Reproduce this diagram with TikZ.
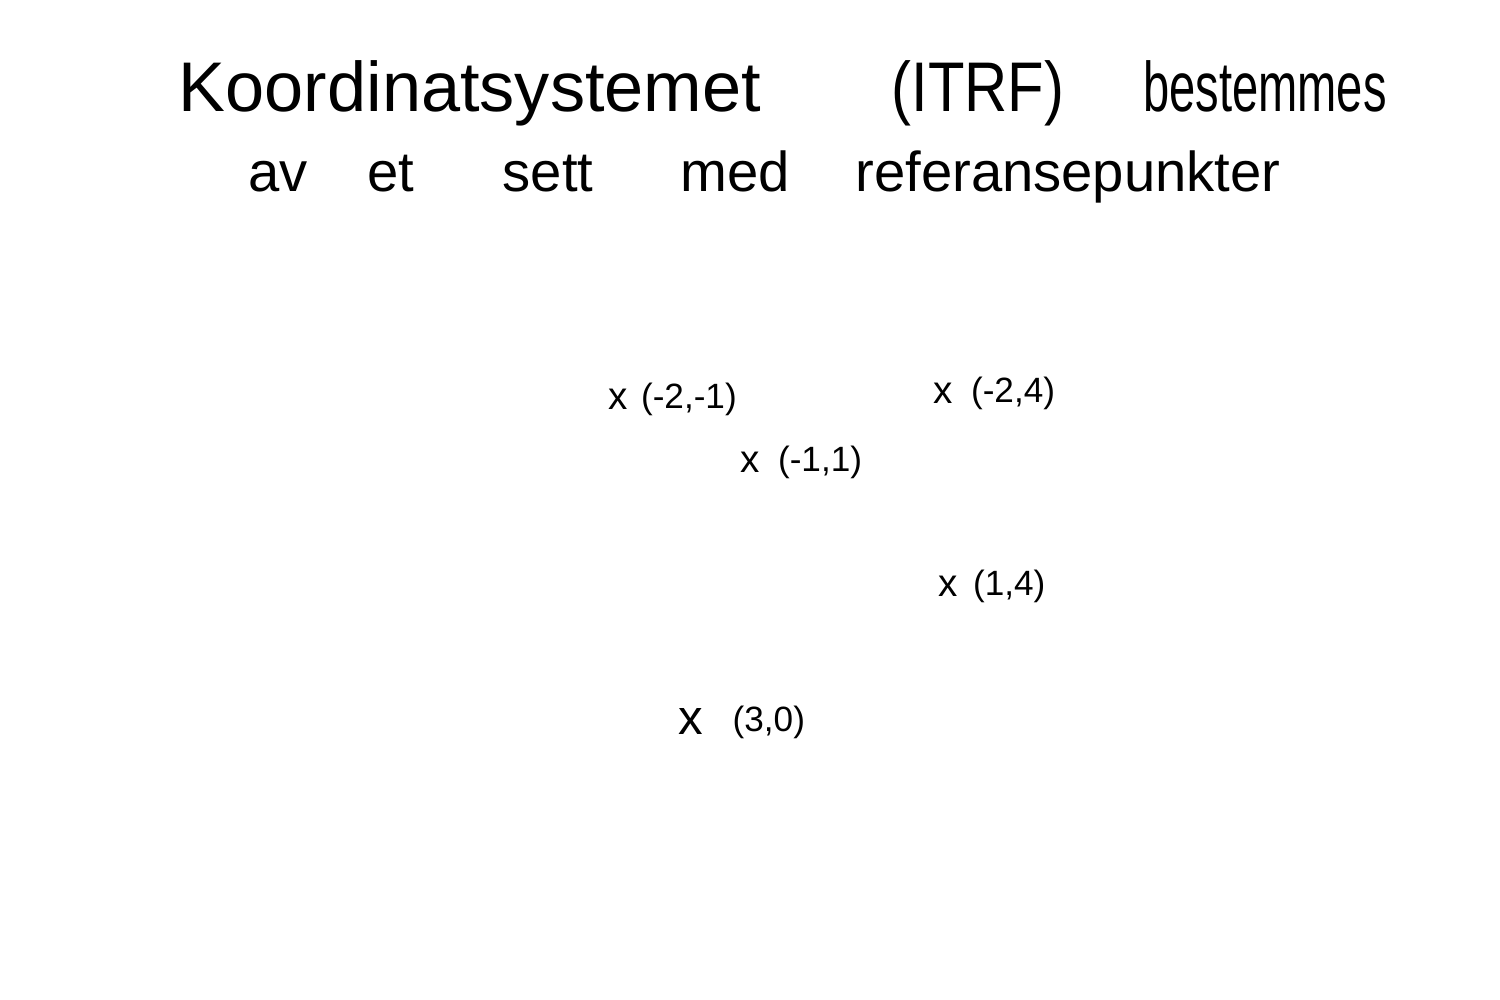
\documentclass[tikz,border=0pt]{standalone}
\usepackage{fontspec}
\setmainfont{Liberation Sans}
\usepackage{tikz}
\usetikzlibrary{positioning}

\tikzset{
  titleword/.style={anchor=base, inner sep=0pt, font=\fontsize{20}{24}\selectfont},
  subword/.style={anchor=base, inner sep=0pt, font=\fontsize{16}{19}\selectfont},
  narrow/.style={transform shape, xscale=#1},
  ptmark/.style={inner sep=0pt, font=\fontsize{11}{13}\selectfont},
  ptlabel/.style={anchor=west, inner sep=0pt, font=\fontsize{10}{12}\selectfont}
}

\begin{document}
\begin{tikzpicture}
    \useasboundingbox (0,0) rectangle (15,10);
    % Heading, first line
    \node[titleword] (wKoord) at (4.70,8.88) {Koordinatsystemet};
    \node[titleword, narrow=0.85] (wItrf) at (9.78,8.88) {(ITRF)};
    \node[titleword, narrow=0.67] (wBest) at (12.65,8.88) {bestemmes};
    % Heading, second line
    \node[subword] (wAv)   at (2.78,8.08) {av};
    \node[subword] (wEt)   at (3.91,8.08) {et};
    \node[subword] (wSett) at (5.48,8.08) {sett};
    \node[subword] (wMed)  at (7.35,8.08) {med};
    \node[subword] (wRef)  at (10.68,8.08) {referansepunkter};
    % Reference points
    \node[ptmark] (pA) at (6.18,6.01) {x};
    \node[ptlabel, right=0.12cm of pA] (lA) {(-2,-1)};
    \node[ptmark] (pB) at (9.43,6.07) {x};
    \node[ptlabel, right=0.17cm of pB] (lB) {(-2,4)};
    \node[ptmark] (pC) at (7.50,5.38) {x};
    \node[ptlabel, right=0.17cm of pC] (lC) {(-1,1)};
    \node[ptmark] (pD) at (9.48,4.14) {x};
    \node[ptlabel, right=0.14cm of pD] (lD) {(1,4)};
    \node[ptmark, font=\fontsize{14}{16}\selectfont] (pE) at (6.91,2.78) {x};
    \node[ptlabel, right=0.28cm of pE] (lE) {(3,0)};
\end{tikzpicture}
\end{document}
